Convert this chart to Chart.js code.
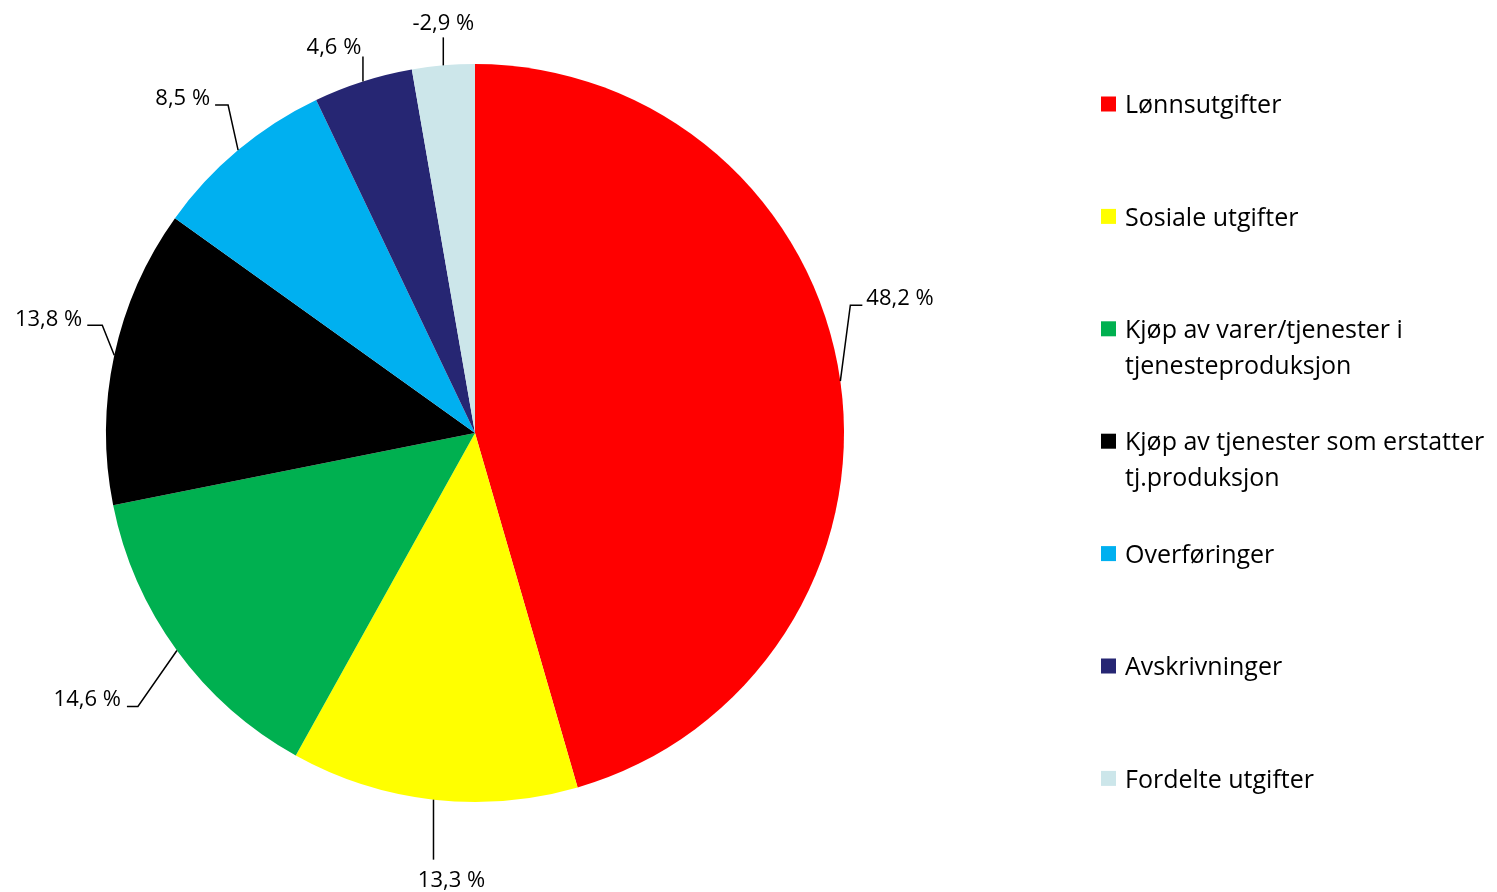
<!DOCTYPE html>
<html>
<head>
<meta charset="utf-8">
<script src="https://cdn.jsdelivr.net/npm/chart.js@4.4.1/dist/chart.umd.min.js"></script>
<style>
  html, body { margin: 0; padding: 0; background: #fff; }
  #wrap { width: 1497px; height: 892px; position: relative; }
</style>
</head>
<body>
<div id="wrap"><canvas id="kostraPie" width="1497" height="892"></canvas></div>
<script>
// Data
const kategorier = [
    'Lønnsutgifter',
    'Sosiale utgifter',
    'Kjøp av varer/tjenester i tjenesteproduksjon',
    'Kjøp av tjenester som erstatter tj.produksjon',
    'Overføringer',
    'Avskrivninger',
    'Fordelte utgifter'
];
const andeler = [48.2, 13.3, 14.6, 13.8, 8.5, 4.6, -2.9];
const farger = ['#ff0000', '#ffff00', '#00b050', '#000000', '#00b0f0', '#262673', '#cce6ea'];

const FONT = '"Open Sans", "Noto Sans", sans-serif';

// Plassering av dataetiketter (knekkpunkt i forhold til buens midtpunkt)
const etikettOppsett = [
    { ex: 10, ey: -76, hx: 12, tx: 4, ty: -6, align: 'left' },
    { ex: 0, ey: 60, hx: 0, tx: 18, ty: 21, align: 'center' },
    { ex: -39, ey: 56, hx: -11, tx: -6, ty: -7, align: 'right' },
    { ex: -12, ey: -30, hx: -15, tx: -5, ty: -6, align: 'right' },
    { ex: -10, ey: -45, hx: -13, tx: -5, ty: -6, align: 'right' },
    { ex: 0, ey: -25, hx: 0, tx: -29, ty: -9, align: 'center' },
    { ex: 0, ey: -28, hx: 0, tx: 0, ty: -14, align: 'center' }
];

function fmt(v) {
    return v.toFixed(1).replace('.', ',') + ' %';
}

// Etiketter med ledelinjer
const etikettPlugin = {
    id: 'etiketter',
    afterDatasetsDraw(chart) {
        const c = chart.ctx;
        const meta = chart.getDatasetMeta(0);
        c.save();
        c.strokeStyle = '#000';
        c.lineWidth = 1.5;
        c.fillStyle = '#000';
        c.font = '22px ' + FONT;
        c.textBaseline = 'middle';
        meta.data.forEach((arc, i) => {
            const p = arc.getProps(['x', 'y', 'startAngle', 'endAngle', 'outerRadius'], true);
            const mid = (p.startAngle + p.endAngle) / 2;
            const sx = p.x + Math.cos(mid) * p.outerRadius;
            const sy = p.y + Math.sin(mid) * p.outerRadius;
            const o = etikettOppsett[i];
            const exx = sx + o.ex, eyy = sy + o.ey;
            const hxx = exx + o.hx;
            c.beginPath();
            c.moveTo(sx, sy);
            c.lineTo(exx, eyy);
            if (o.hx) c.lineTo(hxx, eyy);
            c.stroke();
            c.textAlign = o.align;
            c.fillText(fmt(andeler[i]), hxx + o.tx, eyy + o.ty);
        });
        c.restore();
    }
};

// Egen forklaring til høyre
function brytTekst(c, tekst, maks) {
    const ord = tekst.split(' ');
    const linjer = [];
    let linje = '';
    ord.forEach(w => {
        const test = linje ? linje + ' ' + w : w;
        if (c.measureText(test).width > maks && linje) {
            linjer.push(linje);
            linje = w;
        } else {
            linje = test;
        }
    });
    linjer.push(linje);
    return linjer;
}

const forklaringPlugin = {
    id: 'forklaring',
    afterDraw(chart) {
        const c = chart.ctx;
        c.save();
        c.font = '25px ' + FONT;
        c.textBaseline = 'middle';
        c.textAlign = 'left';
        kategorier.forEach((navn, i) => {
            const y = 104 + i * 112.4;
            c.fillStyle = farger[i];
            c.fillRect(1101, y - 7.5, 15, 15);
            c.fillStyle = '#000';
            brytTekst(c, navn, 372).forEach((l, j) => {
                c.fillText(l, 1125, y + 2 + j * 36);
            });
        });
        c.restore();
    }
};

const ctx = document.getElementById('kostraPie').getContext('2d');
const chart = new Chart(ctx, {
    type: 'pie',
    data: {
        labels: kategorier,
        datasets: [{
            data: andeler.map(v => Math.abs(v)),
            backgroundColor: farger,
            borderWidth: 0
        }]
    },
    options: {
        responsive: false,
        animation: false,
        layout: { padding: { left: 106, right: 653, top: 64, bottom: 90 } },
        plugins: {
            legend: { display: false },
            tooltip: { enabled: false }
        }
    },
    plugins: [etikettPlugin, forklaringPlugin]
});
</script>
</body>
</html>
